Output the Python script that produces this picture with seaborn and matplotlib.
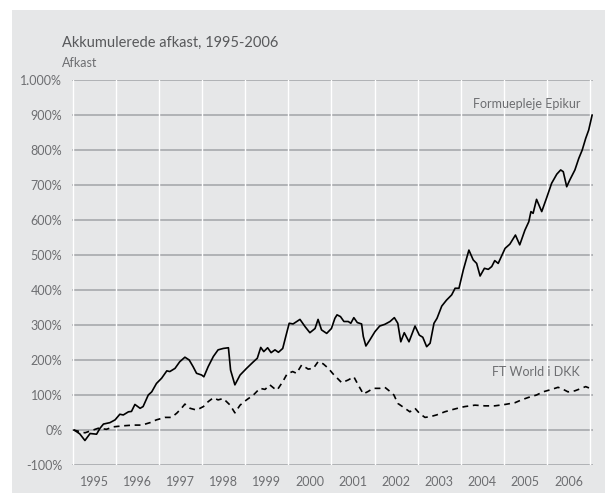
# %%
# Akkumulerede afkast 1995-2006: Formuepleje Epikur mod FT World i DKK
import pandas as pd
import seaborn as sns
import matplotlib.pyplot as plt
from matplotlib import font_manager
from matplotlib.patches import Rectangle
from matplotlib.ticker import FuncFormatter

# %%
# aflæste punkter (år som decimaltal, afkast i %)
epikur_aar = [1995.03, 1995.16, 1995.28, 1995.40, 1995.55, 1995.63, 1995.71, 1995.86, 1995.98,
              1996.09, 1996.17, 1996.29, 1996.36, 1996.44, 1996.56, 1996.63, 1996.75, 1996.83, 1996.94,
              1997.06, 1997.18, 1997.25, 1997.37, 1997.48, 1997.60, 1997.70, 1997.79, 1997.87, 1997.99,
              1998.04, 1998.14, 1998.26, 1998.37, 1998.49, 1998.61, 1998.66, 1998.76, 1998.88,
              1999.03, 1999.19, 1999.28, 1999.36, 1999.43, 1999.52, 1999.60, 1999.69, 1999.77, 1999.87, 1999.94,
              2000.02, 2000.11, 2000.27, 2000.39, 2000.50, 2000.62, 2000.69, 2000.77, 2000.89,
              2001.00, 2001.08, 2001.13, 2001.21, 2001.29, 2001.39, 2001.45, 2001.52, 2001.60, 2001.70,
              2001.74, 2001.80, 2001.89,
              2002.01, 2002.12, 2002.24, 2002.36, 2002.46, 2002.54, 2002.61, 2002.69, 2002.80, 2002.94,
              2003.04, 2003.12, 2003.21, 2003.29, 2003.38, 2003.45, 2003.56, 2003.67, 2003.79, 2003.87, 2003.96,
              2004.06, 2004.19, 2004.29, 2004.37, 2004.45, 2004.55, 2004.64, 2004.72, 2004.79, 2004.87,
              2005.03, 2005.14, 2005.27, 2005.37, 2005.49, 2005.58, 2005.63, 2005.68, 2005.76, 2005.88, 2005.99,
              2006.11, 2006.23, 2006.32, 2006.38, 2006.46, 2006.53, 2006.65, 2006.74, 2006.82, 2006.90,
              2006.97, 2007.05]
epikur_afkast = [0, -11, -30, -10, -12, 5, 17, 21, 29,
                 45, 43, 52, 53, 73, 62, 67, 100, 109, 133,
                 148, 169, 167, 176, 195, 208, 200, 181, 162, 157,
                 152, 181, 210, 229, 233, 235, 171, 129, 157,
                 176, 195, 205, 236, 224, 235, 221, 229, 222, 233, 267,
                 305, 303, 316, 295, 278, 290, 316, 286, 276,
                 290, 319, 329, 324, 310, 310, 305, 321, 307, 303,
                 267, 240, 257,
                 281, 297, 302, 310, 321, 305, 252, 278, 252, 297,
                 271, 265, 238, 248, 305, 319, 354, 371, 386, 405, 405,
                 457, 514, 486, 476, 440, 462, 459, 467, 484, 476,
                 519, 531, 557, 529, 571, 595, 624, 619, 659, 624, 662,
                 705, 731, 743, 738, 695, 714, 743, 776, 800, 833,
                 857, 900]

ft_aar = [1995.01, 1995.28, 1995.40, 1995.59, 1995.78, 1995.94,
          1996.17, 1996.40, 1996.60, 1996.79, 1996.94,
          1997.14, 1997.29, 1997.41, 1997.52, 1997.60, 1997.72, 1997.87,
          1998.03, 1998.14, 1998.26, 1998.37, 1998.49, 1998.65, 1998.76, 1998.88,
          1999.03, 1999.19, 1999.34, 1999.46, 1999.57, 1999.67, 1999.74, 1999.87, 1999.97,
          2000.10, 2000.19, 2000.31, 2000.46, 2000.58, 2000.69, 2000.81, 2000.93,
          2001.04, 2001.24, 2001.39, 2001.52, 2001.62, 2001.74, 2001.85, 2001.97,
          2002.12, 2002.24, 2002.36, 2002.45, 2002.54, 2002.67, 2002.82, 2002.94,
          2003.04, 2003.17, 2003.29, 2003.44, 2003.63, 2003.83,
          2004.02, 2004.10, 2004.33, 2004.56, 2004.79,
          2005.03, 2005.26, 2005.41, 2005.57, 2005.76, 2005.91,
          2006.11, 2006.26, 2006.38, 2006.49, 2006.65, 2006.80, 2006.90, 2007.00]
ft_afkast = [0, -8, -3, 5, 2, 9,
             12, 14, 14, 21, 29,
             36, 36, 48, 62, 74, 62, 57,
             67, 81, 92, 86, 90, 71, 49, 71,
             86, 100, 119, 116, 129, 119, 114, 138, 160,
             167, 162, 186, 174, 176, 195, 189, 176,
             160, 135, 143, 152, 129, 103, 110, 119,
             119, 122, 110, 100, 76, 65, 52, 62,
             48, 36, 38, 43, 52, 59,
             65, 67, 71, 69, 69,
             73, 78, 86, 93, 100, 109,
             116, 122, 116, 109, 112, 119, 124, 119]

aar_labels = [str(a) for a in range(1995, 2007)]
y_ticks = list(range(-100, 1001, 100))

# %%
df = pd.concat([
    pd.DataFrame({'aar': epikur_aar, 'afkast': epikur_afkast, 'serie': 'Formuepleje Epikur'}),
    pd.DataFrame({'aar': ft_aar, 'afkast': ft_afkast, 'serie': 'FT World i DKK'}),
])

# %%
sns.set_style('white')
navne = {f.name for f in font_manager.fontManager.ttflist}
font = 'Liberation Sans Narrow' if 'Liberation Sans Narrow' in navne else 'Lato'
plt.rcParams['font.family'] = [font, 'DejaVu Sans']

baggrund = '#e6e7e8'
tekst = '#6d6e71'

fig = plt.figure(figsize=(6.05, 4.95), dpi=100, facecolor='white')
fig.patches.append(Rectangle((12 / 605, 0.004), 1, 1 - 10 / 495 - 0.004, transform=fig.transFigure,
                             facecolor=baggrund, edgecolor='none', zorder=-10))
ax = fig.add_axes([72 / 605, 1 - 465 / 495, (593 - 72) / 605, (465 - 80) / 495])
ax.set_facecolor(baggrund)

sns.lineplot(data=df, x='aar', y='afkast', style='serie', color='black', linewidth=1.2,
             dashes={'Formuepleje Epikur': '', 'FT World i DKK': (3.5, 2.8)},
             estimator=None, sort=False, legend=False, ax=ax, zorder=3)

ax.set_xlim(1994.98, 2007.07)
ax.set_ylim(-100, 1000)

# lodrette hvide linjer ved årsskifte
for a in range(1995, 2008):
    ax.axvline(a, color='white', linewidth=1.0, zorder=1)
ax.set_yticks(y_ticks)
ax.yaxis.grid(True, color='#a7a9ac', linewidth=1.2, zorder=2)
ax.set_axisbelow(True)

ax.set_xticks([a + 0.5 for a in range(1995, 2007)])
ax.set_xticklabels(aar_labels)
ax.yaxis.set_major_formatter(FuncFormatter(lambda v, p: f'{int(v):,}%'.replace(',', '.')))
ax.tick_params(axis='both', length=0, labelsize=9, labelcolor=tekst)
ax.tick_params(axis='y', pad=7)
ax.tick_params(axis='x', pad=8)
ax.set_xlabel('')
ax.set_ylabel('')
sns.despine(ax=ax, left=True, bottom=True)

ax.text(2006.77, 914, 'Formuepleje Epikur', ha='right', va='bottom', fontsize=9, color=tekst)
ax.text(2006.77, 166, 'FT World i DKK', ha='right', va='center', fontsize=9, color=tekst)

fig.text(62 / 605, 1 - 47 / 495, 'Akkumulerede afkast, 1995-2006', fontsize=10.5, color='#58595b')
fig.text(62 / 605, 1 - 67 / 495, 'Afkast', fontsize=9, color=tekst)

fig.savefig('out.png', dpi=100, facecolor='white')
